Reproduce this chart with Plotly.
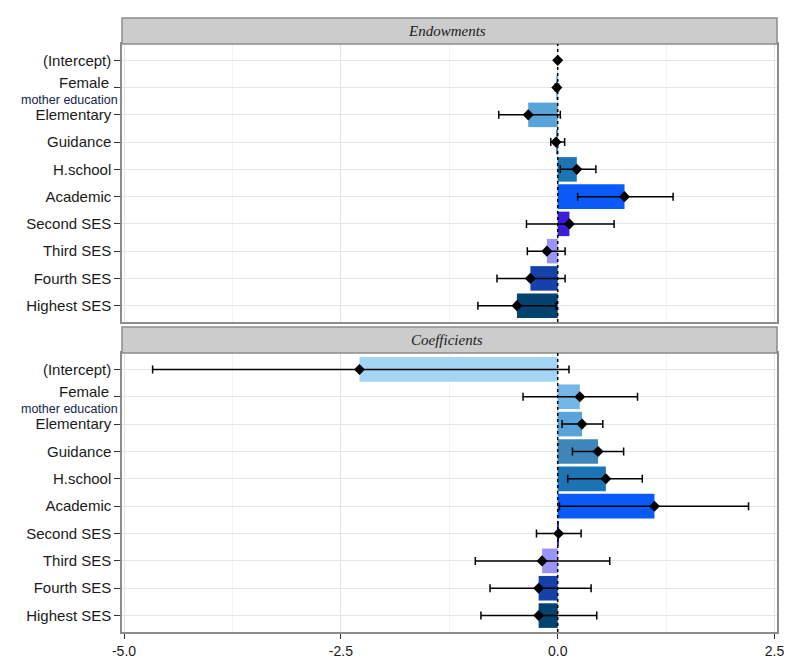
import plotly.graph_objects as go

categories = ["(Intercept)", "Female", "Elementary", "Guidance", "H.school",
              "Academic", "Second SES", "Third SES", "Fourth SES", "Highest SES"]

endow_est = [0.0, -0.01, -0.34, -0.02, 0.22, 0.77, 0.135, -0.125, -0.315, -0.47]
endow_lo = [0.0, -0.03, -0.68, -0.08, 0.03, 0.23, -0.36, -0.35, -0.70, -0.92]
endow_hi = [0.0, 0.01, 0.03, 0.08, 0.44, 1.33, 0.65, 0.085, 0.085, -0.02]

coef_est = [-2.285, 0.255, 0.28, 0.465, 0.555, 1.115, 0.01, -0.18, -0.22, -0.22]
coef_lo = [-4.67, -0.40, 0.05, 0.17, 0.115, 0.02, -0.245, -0.95, -0.78, -0.885]
coef_hi = [0.13, 0.92, 0.52, 0.76, 0.975, 2.20, 0.27, 0.60, 0.385, 0.45]

bar_colors = ["#a5d5f5", "#74b6e6", "#58a3d8", "#3e86ba", "#1c74b4",
              "#0a5af7", "#3a1ed8", "#9a94f6", "#1541ab", "#04436f"]

panel_titles = ["Endowments", "Coefficients"]
x_tickvals = [-5.0, -2.5, 0.0, 2.5]
x_ticktext = ["-5.0", "-2.5", "0.0", "2.5"]

W, H = 800, 665
px_l, px_r = 122, 777
panels_px = [(44, 322), (353, 632)]
strips_px = [(18, 44), (327, 353)]

def ydom(top, bot):
    return [1 - bot / H, 1 - top / H]

fig = go.Figure()
data = [(endow_est, endow_lo, endow_hi), (coef_est, coef_lo, coef_hi)]
for i, (est, lo, hi) in enumerate(data):
    xa = "x" if i == 0 else "x2"
    ya = "y" if i == 0 else "y2"
    fig.add_trace(go.Bar(
        x=est, y=categories, orientation="h", width=0.9,
        marker=dict(color=bar_colors, line=dict(width=0)),
        xaxis=xa, yaxis=ya, showlegend=False, hoverinfo="skip"))
    fig.add_trace(go.Scatter(
        x=est, y=categories, mode="markers",
        marker=dict(symbol="diamond", size=8.5, color="black"),
        error_x=dict(type="data", symmetric=False,
                     array=[h - e for h, e in zip(hi, est)],
                     arrayminus=[e - l for e, l in zip(est, lo)],
                     color="black", thickness=1.5, width=4),
        xaxis=xa, yaxis=ya, showlegend=False))

label_font = dict(family="Liberation Sans, Arial", size=15, color="#1a1a1a")
xtick_font = dict(family="Liberation Sans, Arial", size=14, color="#1a1a1a")
y_ticktext = ["" if c == "Female" else c for c in categories]

xdom = [px_l / W, px_r / W]
common_x = dict(range=[-5.023, 2.528], domain=xdom, zeroline=False, automargin=False,
                showgrid=True, gridcolor="#e3e3e3", gridwidth=1,
                tickvals=x_tickvals, ticktext=x_ticktext,
                minor=dict(dtick=1.25, tick0=-5, showgrid=True,
                           gridcolor="#f3f3f3", ticks=""),
                showline=True, mirror=True, linecolor="#8c8c8c", linewidth=1.5)
common_y = dict(type="category", categoryorder="array", categoryarray=categories,
                tickvals=categories, ticktext=y_ticktext, automargin=False,
                range=[9.6, -0.6], showgrid=True, gridcolor="#e6e6e6",
                ticks="outside", ticklen=6, tickcolor="#333333", tickwidth=1,
                tickfont=label_font,
                showline=True, mirror=True, linecolor="#8c8c8c", linewidth=1.5,
                zeroline=False)

fig.update_layout(
    width=W, height=H, margin=dict(l=0, r=0, t=0, b=0),
    paper_bgcolor="white", plot_bgcolor="white", barmode="overlay",
    xaxis=dict(anchor="y", showticklabels=False, ticks="", **common_x),
    xaxis2=dict(anchor="y2", matches="x", ticks="outside", ticklen=5,
                tickcolor="#333333", tickfont=xtick_font, **common_x),
    yaxis=dict(anchor="x", domain=ydom(*panels_px[0]), **common_y),
    yaxis2=dict(anchor="x2", domain=ydom(*panels_px[1]), **common_y),
)

shapes = []
annotations = []
for i in range(2):
    st, sb = strips_px[i]
    shapes.append(dict(type="rect", xref="paper", yref="paper",
                       x0=px_l / W, x1=px_r / W, y0=1 - sb / H, y1=1 - st / H,
                       fillcolor="#cccccc", line=dict(color="#8c8c8c", width=1.5)))
    annotations.append(dict(text="<i>" + panel_titles[i] + "</i>", xref="paper", yref="paper",
                            x=(px_l + px_r) / 2 / W - 3 / W, y=1 - (st + sb) / 2 / H,
                            showarrow=False, xanchor="center", yanchor="middle",
                            font=dict(family="Liberation Serif, Times New Roman", size=15,
                                      color="#1a1a1a")))
    xr = "x" if i == 0 else "x2"
    yr = "y domain" if i == 0 else "y2 domain"
    shapes.append(dict(type="line", xref=xr, yref=yr, x0=0, x1=0, y0=0, y1=1,
                       line=dict(color="black", width=1.5, dash="dot"), layer="above"))
    pt, pb = panels_px[i]
    step = (pb - pt) / 10.2
    y_female = pt + step * (1 + 0.6) - 5
    annotations.append(dict(text="Female", xref="paper", yref="paper",
                            x=111 / W, y=1 - y_female / H, showarrow=False,
                            xanchor="right", yanchor="middle", font=label_font))
    ylab = pt + step * (1.5 + 0.6) - 1.5
    annotations.append(dict(text="mother education", xref="paper", yref="paper",
                            x=120 / W, y=1 - ylab / H, showarrow=False,
                            xanchor="right", yanchor="middle",
                            font=dict(family="Liberation Sans, Arial", size=12.5,
                                      color="#13234a")))

fig.update_layout(shapes=shapes, annotations=annotations)
fig.write_html("out.html")
